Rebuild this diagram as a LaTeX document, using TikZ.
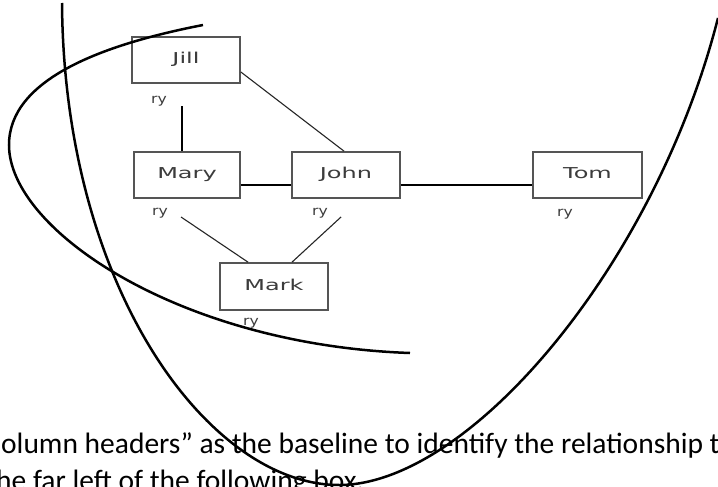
\documentclass[tikz,border=0pt]{standalone}
\usepackage{fontspec}
\usepackage{graphicx}
\setmainfont{Carlito}
\newfontfamily\boxfont{DejaVu Sans}
\definecolor{boxgray}{HTML}{555555}
\definecolor{labelgray}{HTML}{3C3C3C}
\tikzset{
  person/.style={draw=boxgray, line width=1.7pt, fill=white, minimum width=108pt,
    minimum height=46pt, inner sep=0pt, text=labelgray, text height=11pt, text depth=4pt,
    font=\boxfont\fontsize{15}{15}\selectfont},
  rylabel/.style={inner sep=0pt, text=labelgray, font=\boxfont\fontsize{13}{13}\selectfont},
  thinlink/.style={draw=black!85, line width=1.1pt},
  vlink/.style={draw=black, line width=1.9pt},
  thicklink/.style={draw=black, line width=2.8pt},
  bigcurve/.style={draw=black, line width=2.5pt},
  prose/.style={inner sep=0pt, anchor=base west, font=\fontsize{29.5}{36}\selectfont},
}
\newcommand{\wide}[2]{\scalebox{#1}[1]{#2}}
\begin{document}
\begin{tikzpicture}[x=1pt, y=-1pt]
  \useasboundingbox (0,0) rectangle (718,487);
  \clip (0,0) rectangle (718,487);
  \fill[white] (0,0) rectangle (718,487);

  % boxes
  \node[person] (jill) at (186,60) {\wide{1.6}{Jill}};
  \node[person, minimum width=106pt] (mary) at (187,175) {\wide{1.6}{Mary}};
  \node[person] (john) at (346,175) {\wide{1.6}{John}};
  \node[person, minimum width=109pt] (tom) at (587.5,175) {\wide{1.6}{Tom}};
  \node[person, minimum height=47pt] (mark) at (274,286.5) {\wide{1.6}{Mark}};

  % ry labels
  \node[rylabel] (jillry) at (159,101) {\wide{1.2}{ry}};
  \node[rylabel] (maryry) at (160,213) {\wide{1.2}{ry}};
  \node[rylabel] (johnry) at (320,213) {\wide{1.2}{ry}};
  \node[rylabel] (tomry) at (565,214) {\wide{1.2}{ry}};
  \node[rylabel] (markry) at (251,323) {\wide{1.2}{ry}};

  % connectors
  \coordinate (jm) at (182,106);
  \draw[vlink] (jm) -- (jm |- mary.north);
  \draw[thinlink] ([yshift=-12pt]jill.east) -- ([xshift=-2pt]john.north);
  \draw[thicklink] ([yshift=-10pt]mary.east) -- ([yshift=-10pt]john.west);
  \draw[thicklink] ([yshift=-10pt]john.east) -- ([yshift=-10pt]tom.west);
  \draw[thinlink] ([xshift=13pt,yshift=-4pt]maryry.east) -- ([xshift=-26pt]mark.north);
  \draw[thinlink] ([xshift=13pt,yshift=-4pt]johnry.east) -- ([xshift=18pt]mark.north);

  % bottom text
  \node[prose] (line1) at (1,453) {olumn headers” as the baseline to identify the relationship to};
  \node[prose] (line2) at (-4,490) {he far left of the following box.};

  % curves
  \draw[bigcurve] (203,25) .. controls (100,45) and (9,80) .. (9,145)
                  .. controls (9,230) and (180,345) .. (410,353);
  \draw[bigcurve] (62,3) .. controls (64,290) and (210,486) .. (340,485)
                  .. controls (470,484) and (655,265) .. (718,18);
\end{tikzpicture}
\end{document}
